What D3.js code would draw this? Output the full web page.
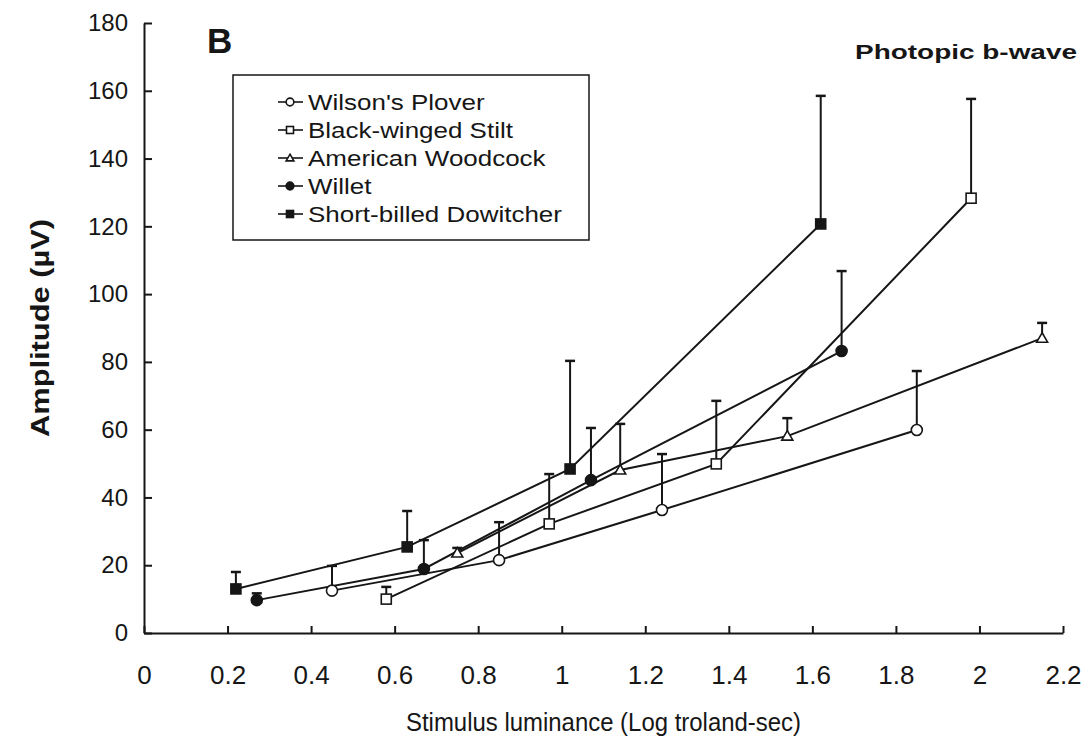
<!DOCTYPE html>
<html>
<head>
<meta charset="utf-8">
<script src="https://cdn.jsdelivr.net/npm/d3@7"></script>
<style>
  body { margin: 0; background: #fff; }
  svg { display: block; font-family: "Liberation Sans", Arial, sans-serif; }
  .axis path, .axis line { stroke: #161616; stroke-width: 2; }
  .axis text { fill: #161616; }
</style>
</head>
<body>
<svg id="chart"></svg>
<script>
// series: x = log troland-sec, y = amplitude (uV), err = upper SE bar
const plover = {name: "Wilson's Plover", x: [0.45, 0.85, 1.24, 1.85], y: [12.5, 21.5, 36.3, 59.9], err: [7.3, 11.2, 16.5, 17.4]};
const stilt = {name: 'Black-winged Stilt', x: [0.58, 0.97, 1.37, 1.98], y: [10.0, 32.2, 49.9, 128.3], err: [3.6, 14.7, 18.6, 29.3]};
const woodcock = {name: 'American Woodcock', x: [0.75, 1.14, 1.54, 2.15], y: [23.6, 48.1, 58.1, 87.0], err: [1.5, 13.6, 5.3, 4.5]};
const willet = {name: 'Willet', x: [0.27, 0.67, 1.07, 1.67], y: [9.7, 18.9, 45.1, 83.2], err: [2.0, 8.5, 15.4, 23.6]};
const dowitcher = {name: 'Short-billed Dowitcher', x: [0.22, 0.63, 1.02, 1.62], y: [13.0, 25.4, 48.4, 120.7], err: [5.0, 10.6, 31.9, 37.8]};

const xTicks = [0, 0.2, 0.4, 0.6, 0.8, 1, 1.2, 1.4, 1.6, 1.8, 2, 2.2];
const yTicks = [0, 20, 40, 60, 80, 100, 120, 140, 160, 180];

// marker per series
const markers = [
  {s: plover, shape: 'circle', fill: '#fff'},
  {s: stilt, shape: 'square', fill: '#fff'},
  {s: woodcock, shape: 'triangle', fill: '#fff'},
  {s: willet, shape: 'circle', fill: '#161616'},
  {s: dowitcher, shape: 'square', fill: '#161616'}
];

const width = 1091;
const height = 746;
const margin = {top: 23, right: 28, bottom: 113, left: 144};
const ink = '#161616';

const svg = d3.select('#chart').attr('width', width).attr('height', height);

const x = d3.scaleLinear().domain([0, 2.2]).range([margin.left, width - margin.right]);
const y = d3.scaleLinear().domain([0, 180]).range([height - margin.bottom, margin.top]);

// axes, ticks point inward
svg.append('g')
  .attr('class', 'axis')
  .attr('transform', `translate(${margin.left},0)`)
  .call(d3.axisLeft(y).tickValues(yTicks).tickSize(-8).tickSizeOuter(0).tickPadding(16))
  .call(g => g.selectAll('text').style('font-size', '24px'));

svg.append('g')
  .attr('class', 'axis')
  .attr('transform', `translate(0,${height - margin.bottom})`)
  .call(d3.axisBottom(x).tickValues(xTicks).tickFormat(d3.format('~g')).tickSize(-7).tickSizeOuter(0).tickPadding(33))
  .call(g => g.selectAll('text').style('font-size', '26px'));

svg.append('text')
  .attr('x', (margin.left + width - margin.right) / 2)
  .attr('y', 731)
  .attr('text-anchor', 'middle')
  .attr('textLength', 395)
  .attr('lengthAdjust', 'spacingAndGlyphs')
  .style('font-family', '"Liberation Sans Narrow", "Liberation Sans", Arial, sans-serif')
  .style('font-size', '25px')
  .attr('fill', ink)
  .text('Stimulus luminance (Log troland-sec)');

svg.append('text')
  .attr('transform', `translate(49,${(margin.top + height - margin.bottom) / 2}) rotate(-90)`)
  .attr('text-anchor', 'middle')
  .attr('textLength', 218)
  .attr('lengthAdjust', 'spacingAndGlyphs')
  .style('font-size', '26px')
  .style('font-weight', 'bold')
  .attr('fill', ink)
  .text('Amplitude (µV)');

svg.append('text')
  .attr('x', 207).attr('y', 53)
  .style('font-size', '35px').style('font-weight', 'bold')
  .attr('fill', ink)
  .text('B');

svg.append('text')
  .attr('x', 855).attr('y', 59)
  .attr('textLength', 222)
  .attr('lengthAdjust', 'spacingAndGlyphs')
  .style('font-size', '21px').style('font-weight', 'bold')
  .attr('fill', ink)
  .text('Photopic b-wave');

function drawMarker(g, shape, fill, size) {
  if (shape === 'circle') {
    g.append('circle').attr('r', size * 0.55);
  } else if (shape === 'square') {
    g.append('rect').attr('x', -size / 2).attr('y', -size / 2).attr('width', size).attr('height', size);
  } else {
    const h = size * 0.9;
    g.append('path').attr('d', `M0,${-h * 0.6}L${size * 0.55},${h * 0.45}L${-size * 0.55},${h * 0.45}Z`);
  }
  g.selectAll('*').attr('fill', fill).attr('stroke', ink).attr('stroke-width', 1.6);
}

const line = d3.line().x(d => x(d[0])).y(d => y(d[1]));

// lines
markers.forEach(m => {
  const pts = m.s.x.map((v, i) => [v, m.s.y[i]]);
  svg.append('path')
    .datum(pts)
    .attr('d', line)
    .attr('fill', 'none')
    .attr('stroke', ink)
    .attr('stroke-width', 2);
});

// error bars (upper only)
markers.forEach(m => {
  m.s.x.forEach((v, i) => {
    const top = y(m.s.y[i] + m.s.err[i]);
    svg.append('line')
      .attr('x1', x(v)).attr('x2', x(v))
      .attr('y1', y(m.s.y[i])).attr('y2', top)
      .attr('stroke', ink).attr('stroke-width', 2);
    svg.append('line')
      .attr('x1', x(v) - 5).attr('x2', x(v) + 5)
      .attr('y1', top).attr('y2', top)
      .attr('stroke', ink).attr('stroke-width', 2.5);
  });
});

// points
markers.forEach(m => {
  m.s.x.forEach((v, i) => {
    const g = svg.append('g').attr('transform', `translate(${x(v)},${y(m.s.y[i])})`);
    drawMarker(g, m.shape, m.fill, 10);
  });
});

// legend
const legend = svg.append('g');
legend.append('rect')
  .attr('x', 233).attr('y', 75).attr('width', 356).attr('height', 165)
  .attr('fill', '#fff').attr('stroke', ink).attr('stroke-width', 1.5);

markers.forEach((m, i) => {
  const ly = 102 + i * 28;
  legend.append('line')
    .attr('x1', 278).attr('x2', 303).attr('y1', ly).attr('y2', ly)
    .attr('stroke', ink).attr('stroke-width', 1.6);
  const g = legend.append('g').attr('transform', `translate(290,${ly})`);
  drawMarker(g, m.shape, m.fill, 7);
  legend.append('text')
    .attr('x', 308).attr('y', ly + 8)
    .style('font-size', '22px')
    .attr('fill', ink)
    .text(m.s.name)
    .attr('textLength', function() { return this.getComputedTextLength() * 1.18; })
    .attr('lengthAdjust', 'spacingAndGlyphs');
});
</script>
</body>
</html>
